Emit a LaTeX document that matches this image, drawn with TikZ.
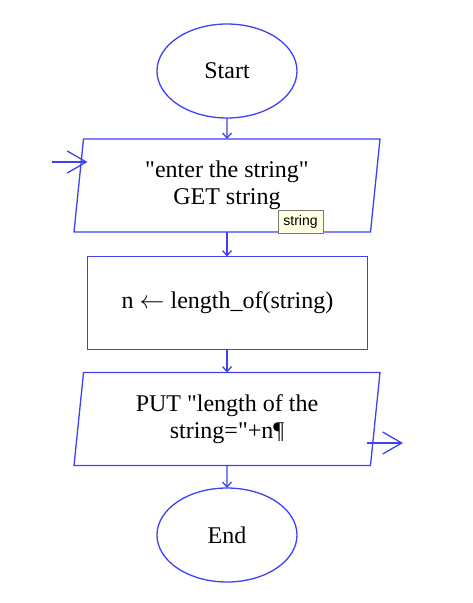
\documentclass[tikz,border=0pt]{standalone}
\usepackage{fontspec}
\newfontfamily\flowfont{Liberation Serif}
\newfontfamily\tipfont{Liberation Sans}
\usetikzlibrary{shapes.geometric,arrows.meta}
\definecolor{fcblue}{RGB}{64,64,245}
\definecolor{tipfill}{RGB}{255,255,225}
\definecolor{tipline}{RGB}{120,120,120}
\tikzset{
  every node/.style={inner sep=0pt, outer sep=0pt},
  txt/.style={font=\flowfont\fontsize{24}{27}\selectfont, align=center, text=black},
  term/.style={txt, ellipse, draw=fcblue, line width=1.3pt, minimum width=140pt, minimum height=94pt},
  io/.style={txt, trapezium, trapezium left angle=79, trapezium right angle=101,
     trapezium stretches body, draw=fcblue, line width=1.3pt, minimum width=306pt, minimum height=93pt},
  proc/.style={txt, rectangle, draw=fcblue, line width=1.3pt, minimum width=280pt, minimum height=93pt},
  flow/.style={draw=fcblue, line width=1.3pt, -{Straight Barb[length=5pt,width=9pt]}},
  bigflow/.style={draw=fcblue, line width=1.3pt, -{Straight Barb[length=19pt,width=22pt]}},
  tip/.style={draw=tipline, fill=tipfill, line width=0.8pt, minimum width=45pt, minimum height=23pt,
     font=\tipfont\fontsize{14}{16}\selectfont}
}
\begin{document}
\begin{tikzpicture}[x=1pt,y=-1pt]
\useasboundingbox (0,0) rectangle (473,603);
\node[term] (start) at (227,71) {Start};
\node[io] (in) at (227,185.5) {"enter the string"\\GET string};
\node[proc] (len) at (227.5,303) {n $\leftarrow$ length\_of(string)};
\node[io] (out) at (227,419) {PUT "length of the\\string="+n¶};
\node[term] (end) at (227,535) {End};
\node[tip] (tipbox) at (300.5,221.5) {string};
\coordinate (inarr) at (52,162);
\coordinate (inedge) at (87.5,162);
\coordinate (outedge) at (367,443);
\coordinate (outarr) at (403,443);
\draw[flow] (start.south) -- (in.north);
\draw[flow] (in.south) -- (in.south |- len.north);
\draw[flow] (len.south -| out.north) -- (out.north);
\draw[flow] (out.south) -- (end.north);
\draw[bigflow] (inarr) -- (inedge);
\draw[bigflow] (outedge) -- (outarr);
\end{tikzpicture}
\end{document}
